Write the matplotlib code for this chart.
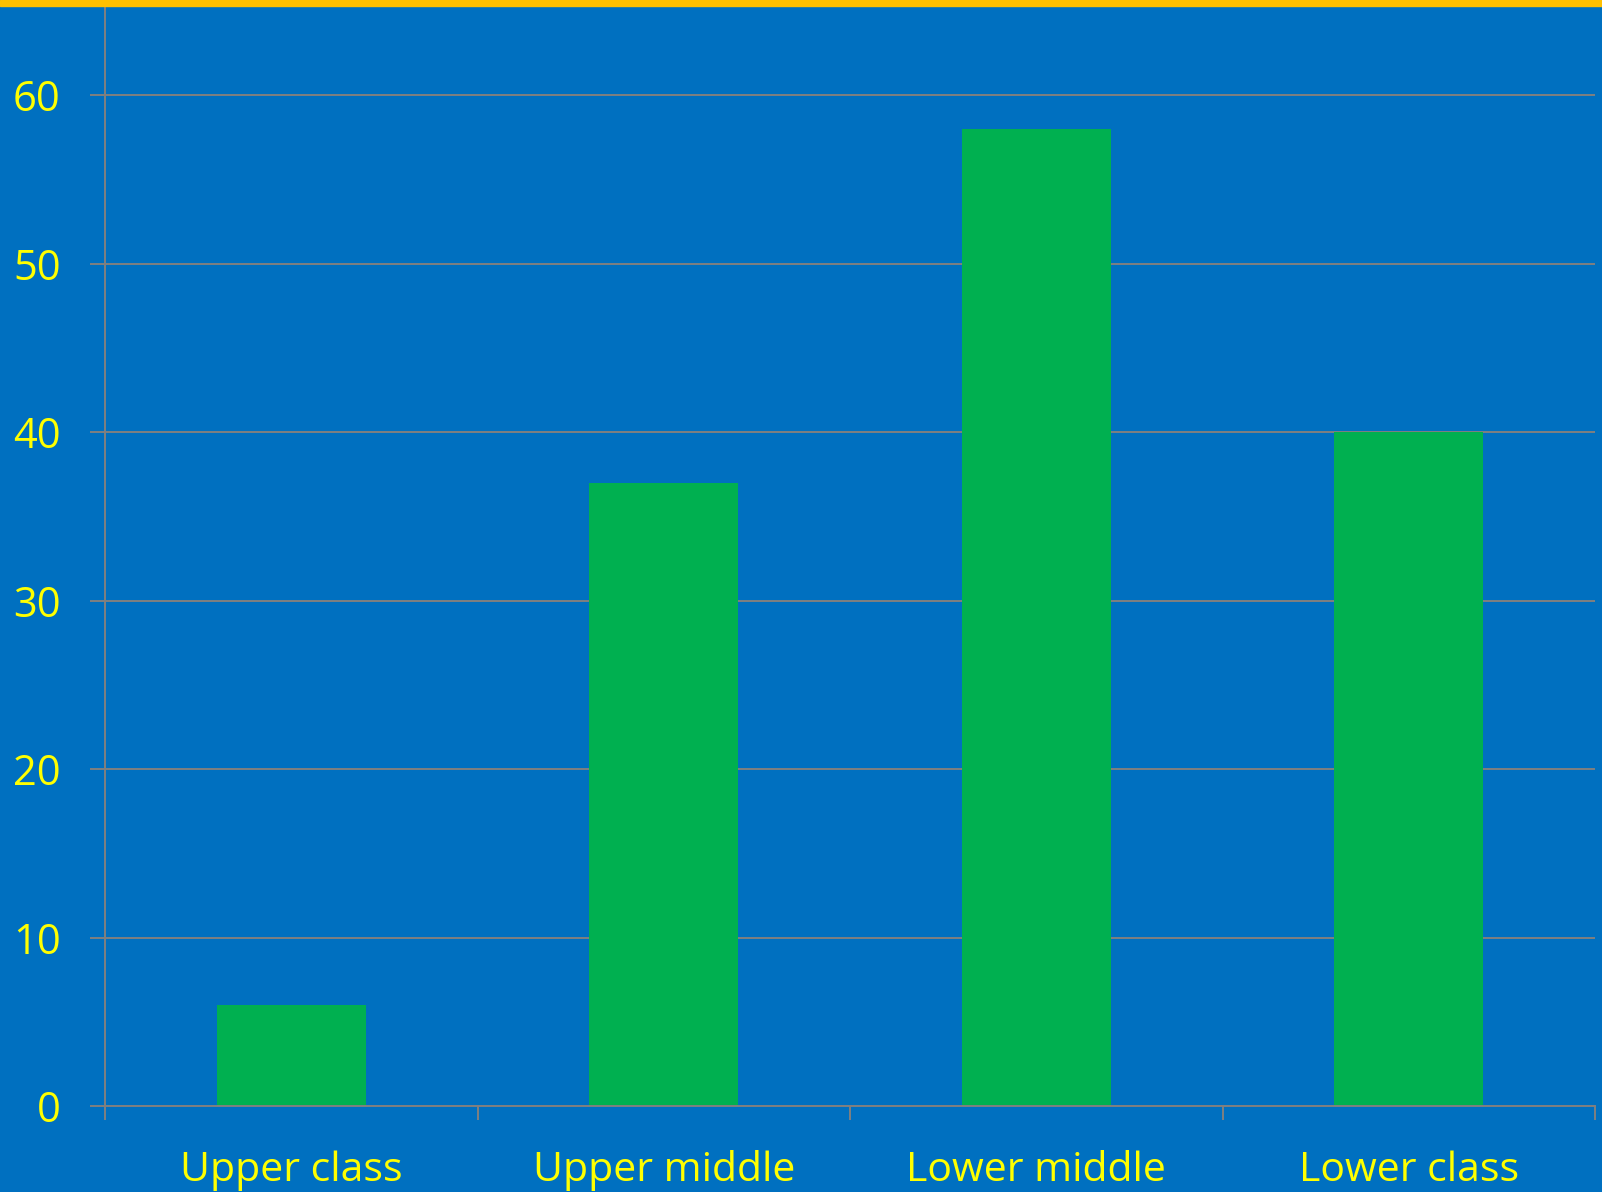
import matplotlib.pyplot as plt
from matplotlib.ticker import FixedLocator

# Dados
categorias = ['Upper class', 'Upper middle', 'Lower middle', 'Lower class']
valores = [6, 37, 58, 40]
y_ticks = [0, 10, 20, 30, 40, 50, 60]

# Cores
fundo = '#0070C0'
verde = '#00B050'
amarelo = '#FFFF00'
cinza = '#808080'
laranja = '#FFC000'

plt.rcParams['font.family'] = ['Open Sans', 'DejaVu Sans']

fig = plt.figure(figsize=(16.02, 11.92), dpi=100)
fig.patch.set_facecolor(fundo)
ax = fig.add_axes([105 / 1602, 1 - 1106 / 1192, 1490 / 1602, 1100 / 1192])
ax.set_facecolor(fundo)

x = range(len(categorias))
ax.bar(x, valores, width=0.4, color=verde, zorder=2)

ax.set_xlim(-0.5, len(categorias) - 0.5)
ax.set_ylim(0, 65.3)

# eixo y
ax.set_yticks(y_ticks)
ax.tick_params(axis='y', colors=cinza, labelcolor=amarelo, labelsize=30,
               length=10.8, width=1.4, pad=21)
ax.yaxis.grid(True, color=cinza, linewidth=1.4, zorder=1)
ax.set_axisbelow(True)

# eixo x: rótulos no centro, marcas nas fronteiras
ax.set_xticks(list(x))
ax.set_xticklabels(categorias)
ax.tick_params(axis='x', which='major', length=0, labelcolor=amarelo,
               labelsize=29.5, pad=32)
ax.xaxis.set_minor_locator(FixedLocator([i - 0.5 for i in range(len(categorias) + 1)]))
ax.tick_params(axis='x', which='minor', colors=cinza, length=10, width=1.4)

for lado in ['top', 'right']:
    ax.spines[lado].set_visible(False)
for lado in ['left', 'bottom']:
    ax.spines[lado].set_color(cinza)
    ax.spines[lado].set_linewidth(1.4)

# faixa laranja no topo
fig.add_artist(plt.Rectangle((0, 1 - 6 / 1192), 1, 6 / 1192,
                             transform=fig.transFigure, color=laranja))

fig.savefig('out.png', dpi=100, facecolor=fundo)
